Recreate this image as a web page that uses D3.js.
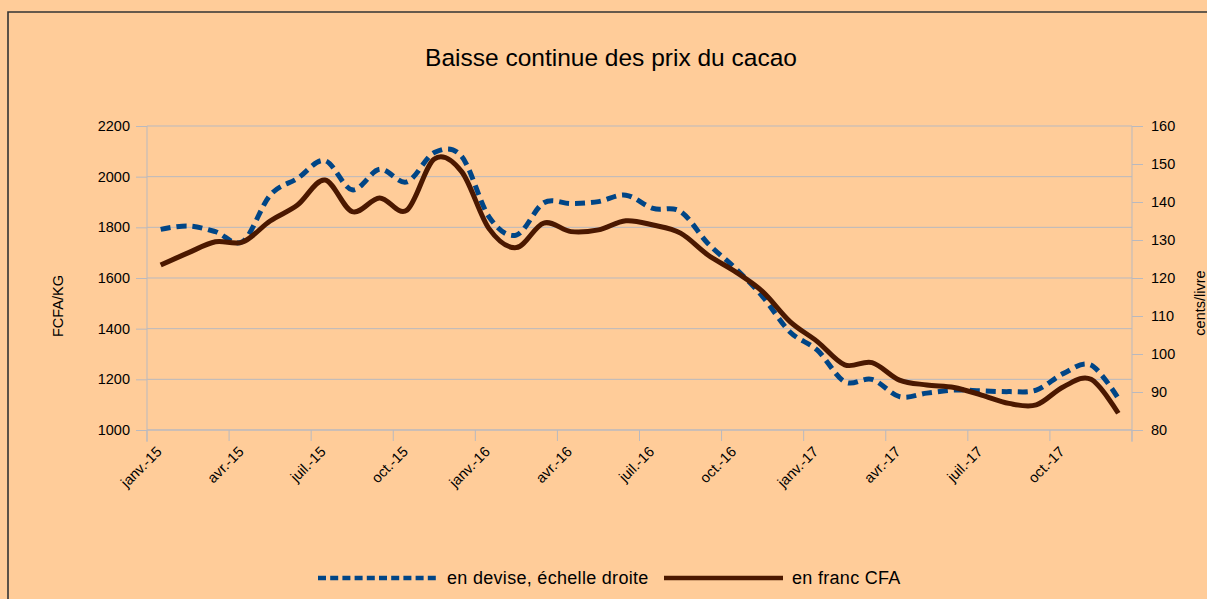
<!DOCTYPE html>
<html><head><meta charset="utf-8">
<script src="https://cdn.jsdelivr.net/npm/d3@7"></script>
<style>
html,body{margin:0;padding:0;background:#FFCC99;}
svg{display:block;}
text{font-family:"Liberation Sans",Arial,sans-serif;fill:#000;}
</style></head>
<body><svg id="c" width="1207" height="599"></svg>
<script>
const months = ["janv.-15","févr.-15","mars-15","avr.-15","mai-15","juin-15","juil.-15","août-15","sept.-15","oct.-15","nov.-15","déc.-15",
"janv.-16","févr.-16","mars-16","avr.-16","mai-16","juin-16","juil.-16","août-16","sept.-16","oct.-16","nov.-16","déc.-16",
"janv.-17","févr.-17","mars-17","avr.-17","mai-17","juin-17","juil.-17","août-17","sept.-17","oct.-17","nov.-17","déc.-17"];
const tickLabels = ["janv.-15","avr.-15","juil.-15","oct.-15","janv.-16","avr.-16","juil.-16","oct.-16","janv.-17","avr.-17","juil.-17","oct.-17"];
const devise = [132.8,133.7,132.2,129.6,141.8,146.2,150.9,143.2,148.6,145.3,153.0,152.0,
136.1,131.3,139.8,139.6,140.1,141.8,138.3,137.5,129.1,122.6,115.1,105.8,
101.0,92.7,93.3,88.8,89.7,90.5,90.3,90.1,90.5,94.9,97.1,88.3];
const fcfa = [1651,1699,1743,1742,1825,1888,1987,1862,1916,1868,2070,2020,
1795,1720,1817,1783,1790,1826,1809,1777,1691,1625,1546,1428,
1349,1257,1266,1197,1178,1168,1138,1105,1099,1171,1200,1066];
const leftTicks = [1000,1200,1400,1600,1800,2000,2200];
const rightTicks = [80,90,100,110,120,130,140,150,160];
const seriesNames = ["en devise, échelle droite","en franc CFA"];

const svg = d3.select("#c");
const L=147, R=1132, T=126, B=430;
const gridColor="#B9B9BF";
const blue="#004586", brown="#4B1800";

// frame
svg.append("path").attr("d","M8,599 L8,12 L1207,12").attr("fill","none").attr("stroke","#333").attr("stroke-width",1.6);

svg.append("text").attr("x",611).attr("y",66).attr("text-anchor","middle").style("font-size","24.5px").text("Baisse continue des prix du cacao");

const x = d3.scaleBand().domain(months).range([L,R]).paddingInner(0).paddingOuter(0);
const yL = d3.scaleLinear().domain([1000,2200]).range([B,T]);
const yR = d3.scaleLinear().domain([80,160]).range([B,T]);

// gridlines
svg.append("g").selectAll("line").data(leftTicks).join("line")
  .attr("x1",L).attr("x2",R).attr("y1",d=>yL(d)).attr("y2",d=>yL(d))
  .attr("stroke",gridColor).attr("stroke-width",1);

// left axis
const gl = svg.append("g").attr("transform",`translate(${L},0)`)
  .call(d3.axisLeft(yL).tickValues(leftTicks).tickSize(11).tickPadding(6).tickFormat(d3.format("d")));
gl.select(".domain").attr("stroke",gridColor).attr("d",`M0,${T}V${B+12}`);
gl.selectAll(".tick line").attr("stroke",gridColor);
gl.selectAll(".tick text").style("font-size","14.5px").attr("font-family","Liberation Sans, Arial, sans-serif").attr("fill","#000");

// right axis
const gr = svg.append("g").attr("transform",`translate(${R},0)`)
  .call(d3.axisRight(yR).tickValues(rightTicks).tickSize(11).tickPadding(8).tickFormat(d3.format("d")));
gr.select(".domain").attr("stroke",gridColor).attr("d",`M0,${T}V${B+12}`);
gr.selectAll(".tick line").attr("stroke",gridColor);
gr.selectAll(".tick text").style("font-size","14.5px").attr("font-family","Liberation Sans, Arial, sans-serif").attr("fill","#000");

// bottom axis
svg.append("line").attr("x1",L).attr("x2",R).attr("y1",B).attr("y2",B).attr("stroke",gridColor);
const gx = svg.append("g");
const tk = gx.selectAll("g").data(tickLabels).join("g").attr("transform",d=>`translate(${x(d)},${B})`);
tk.append("line").attr("y1",0).attr("y2",11).attr("stroke",gridColor);
tk.append("text").attr("transform","translate(12,19) rotate(-45)").attr("text-anchor","end").attr("dy","0.35em")
  .style("font-size","14.5px").text(d=>d);
gx.append("line").attr("x1",R).attr("x2",R).attr("y1",B).attr("y2",B+11).attr("stroke",gridColor);

// axis titles
svg.append("text").attr("transform","translate(63,306) rotate(-90)").attr("text-anchor","middle").style("font-size","14.5px").text("FCFA/KG");
svg.append("text").attr("transform","translate(1205,303) rotate(-90)").attr("text-anchor","middle").style("font-size","14.5px").text("cents/livre");

const cx = d=>x(d)+x.bandwidth()/2;
const lineB = d3.line().x((d,i)=>cx(months[i])).y(d=>yR(d)).curve(d3.curveCardinal.tension(0));
const lineF = d3.line().x((d,i)=>cx(months[i])).y(d=>yL(d)).curve(d3.curveCardinal.tension(0));

svg.append("path").attr("d",lineB(devise)).attr("fill","none").attr("stroke",blue).attr("stroke-width",5).attr("stroke-dasharray","10,6");
svg.append("path").attr("d",lineF(fcfa)).attr("fill","none").attr("stroke",brown).attr("stroke-width",5).attr("stroke-linejoin","round");

// legend
const ly=578;
svg.append("line").attr("x1",318).attr("x2",437).attr("y1",ly).attr("y2",ly).attr("stroke",blue).attr("stroke-width",4.5).attr("stroke-dasharray","8,4.2");
svg.append("text").attr("x",447).attr("y",ly+6).style("font-size","18px").style("letter-spacing","0.3px").text(seriesNames[0]);
svg.append("line").attr("x1",664).attr("x2",783).attr("y1",ly).attr("y2",ly).attr("stroke",brown).attr("stroke-width",4.5);
svg.append("text").attr("x",792).attr("y",ly+6).style("font-size","18px").style("letter-spacing","0.3px").text(seriesNames[1]);
</script></body></html>
